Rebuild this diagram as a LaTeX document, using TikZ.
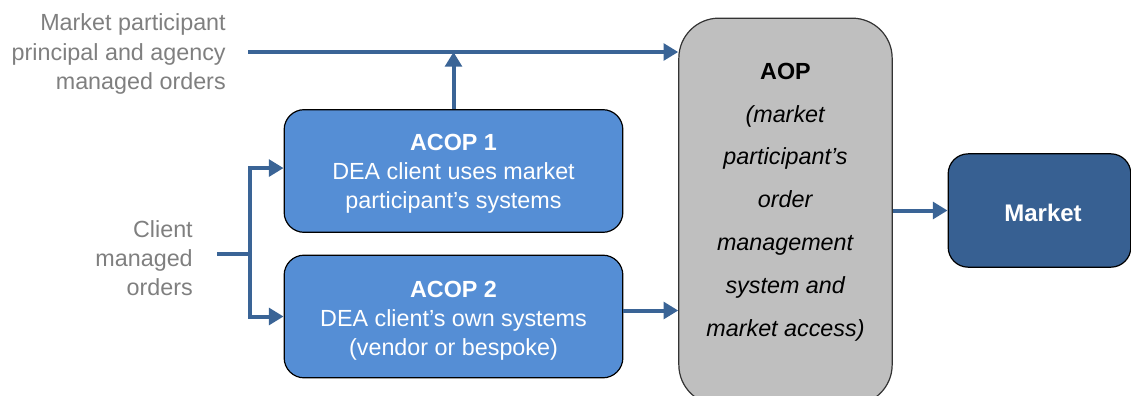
\documentclass[tikz,border=0pt]{standalone}
\usepackage{fontspec}
\setmainfont{Liberation Sans}
\usetikzlibrary{arrows.meta,positioning,calc}
\definecolor{arrowblue}{HTML}{3A6496}
\definecolor{acopblue}{HTML}{558ED5}
\definecolor{marketblue}{HTML}{376092}
\definecolor{aopgrey}{HTML}{BFBFBF}
\definecolor{labelgrey}{HTML}{7F7F7F}
\tikzset{
  arr/.style={draw=arrowblue, line width=3pt, -{Triangle[length=11pt,width=12.5pt]}},
  plainline/.style={draw=arrowblue, line width=3pt},
  acopbox/.style={draw=black, line width=0.9pt, fill=acopblue, rounded corners=15pt,
    minimum width=254pt, minimum height=92pt, inner sep=0pt},
  acoptext/.style={text=white, align=center, font=\fontsize{17.5}{21.7}\selectfont, inner sep=0pt},
  sidelabel/.style={text=labelgrey, align=right, font=\fontsize{17.5}{22}\selectfont, inner sep=0pt},
}
\begin{document}
\begin{tikzpicture}[x=0.75pt,y=-0.75pt]
\useasboundingbox (0,0) rectangle (1131,396);
\clip (0,0) rectangle (1131,396);
% AOP box
\node[draw=black!80, line width=0.9pt, fill=aopgrey, rounded corners=30pt,
  minimum width=160pt, minimum height=290pt, inner sep=0pt] (aop) at (785.5,211.5) {};
\node[align=center, inner sep=0pt, font=\fontsize{17.5}{32.1}\selectfont] (aoptext) at (785.5,202)
  {\textbf{AOP}\\\textit{(market}\\\textit{participant's}\\\textit{order}\\\textit{management}\\\textit{system and}\\\textit{market access)}};
% ACOP boxes
\node[acopbox] (acop1) at (453.5,171) {};
\node[acoptext] (acop1text) at (453.5,174) {\textbf{ACOP 1}\\DEA client uses market\\participant's systems};
\node[acopbox] (acop2) at (453.5,316.5) {};
\node[acoptext] (acop2text) at (453.5,321) {\textbf{ACOP 2}\\DEA client's own systems\\(vendor or bespoke)};
% Market
\node[draw=black, line width=0.9pt, fill=marketblue, rounded corners=15pt,
  minimum width=137pt, minimum height=85pt, inner sep=0pt] (market) at (1039.5,210.5) {};
\node[text=white, inner sep=0pt, font=\fontsize{18}{21}\selectfont\bfseries] (markettext) at (1043,212.5) {Market};
% side labels
\node[sidelabel, anchor=east] (mplabel) at (226,54) {Market participant\\principal and agency\\managed orders};
\node[sidelabel, anchor=east] (cllabel) at (193,258) {Client\\managed\\orders};
% connectors
\coordinate (tl) at (248,52);
\draw[arr] (tl) -- (tl -| aop.west);
\draw[arr] (acop1.north) -- (acop1.north |- tl);
\coordinate (cl) at (217,254);
\coordinate (fork) at (250,254);
\draw[plainline] (cl) -- (fork);
\path ([yshift=2.2pt]acop1.west) coordinate (a1in);
\draw[arr] (fork) |- (a1in);
\draw[arr] (fork) |- (acop2.west);
\path ([yshift=4.5pt]acop2.east) coordinate (a2o);
\draw[arr] (a2o) -- (a2o -| aop.west);
\draw[arr] (market.west -| aop.east) -- (market.west);
\end{tikzpicture}
\end{document}
